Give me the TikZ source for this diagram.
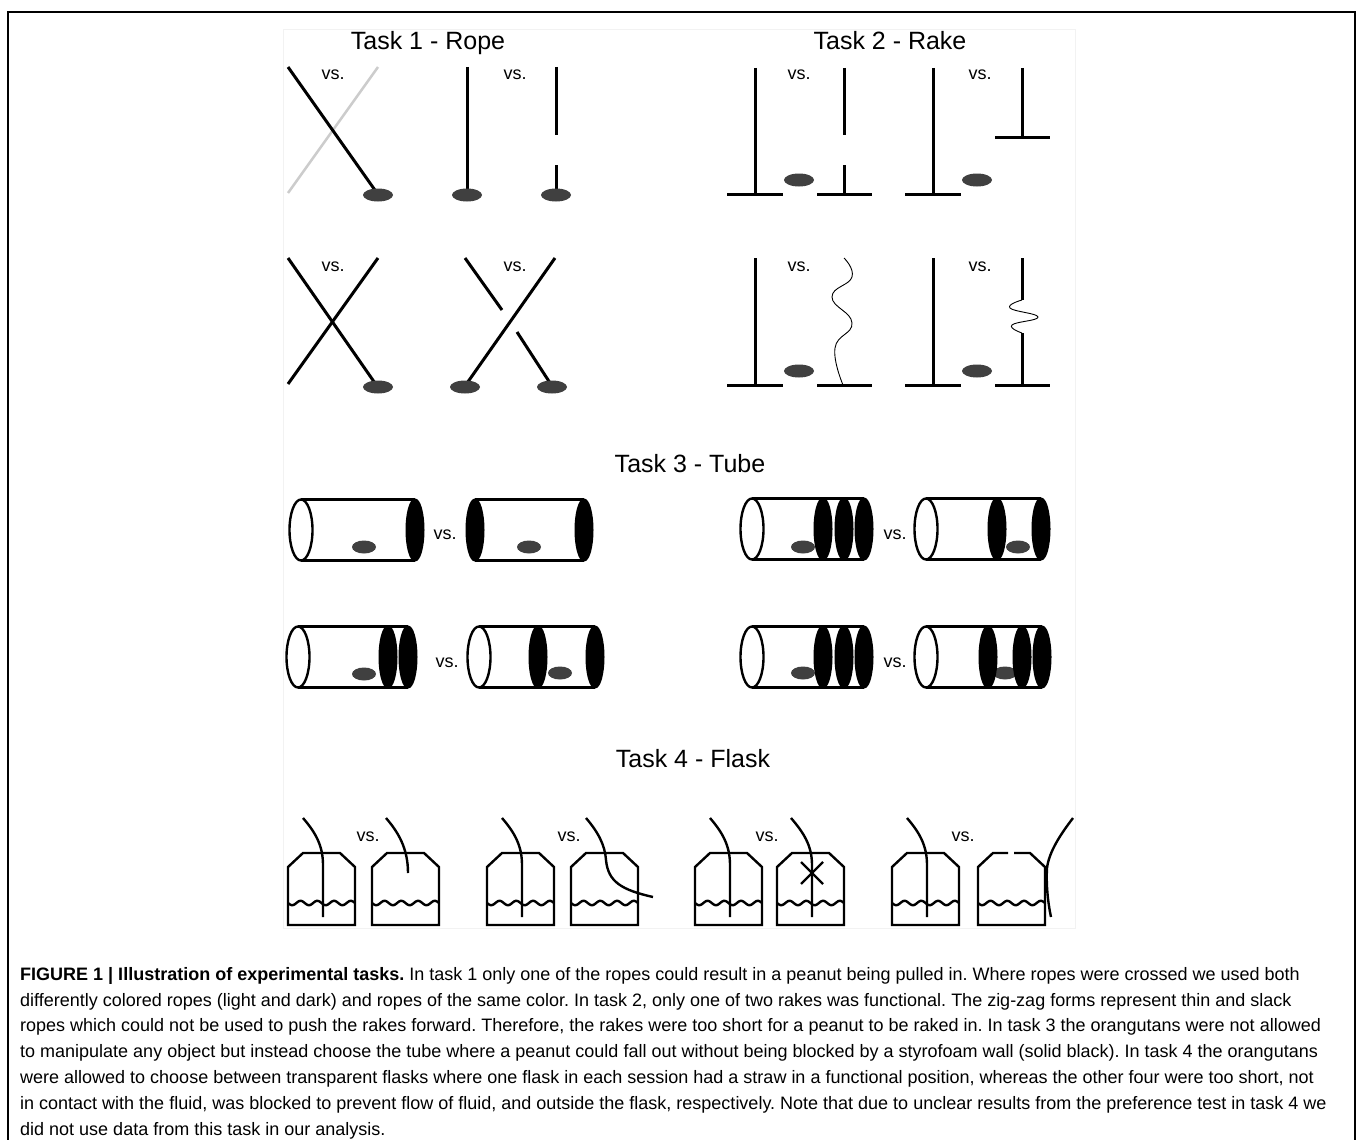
\documentclass[tikz,border=0pt]{standalone}
\usepackage{fontspec}
\setmainfont{Liberation Sans}
\usepackage{tikz}

\newcommand\tubebody[3]{\draw[tubeline] (#1,#3-30.5) -- (#2,#3-30.5) (#1,#3+30.5) -- (#2,#3+30.5);}
\newcommand\flask[1]{%
  \draw[flaskline] (#1,925) -- (#1,867) -- (#1+15,853) -- (#1+52,853) -- (#1+67,867) -- (#1+67,925) -- cycle;
  \draw[flaskline] plot[domain=0:67,samples=60] ({#1+\x},{903+2.2*sin(21.49*\x)});}

\begin{document}
\frenchspacing
\begin{tikzpicture}[x=1pt,y=-1pt,
    rope/.style={line width=3pt},
    lightrope/.style={line width=2.5pt,black!20},
    slack/.style={line width=0.9pt},
    peanut/.style={fill=black!75},
    tubeline/.style={line width=2.4pt},
    openend/.style={draw,fill=white,line width=2.4pt},
    wall/.style={draw,fill=black,line width=2pt},
    flaskline/.style={line width=2.4pt,line join=miter},
    straw/.style={line width=2.4pt},
    tasktitle/.style={font=\fontsize{25}{30}\selectfont,anchor=base},
    vslabel/.style={font=\fontsize{18}{20}\selectfont,inner sep=0pt}]

\useasboundingbox (0,0) rectangle (1358,1140);
\fill[white] (0,0) rectangle (1358,1140);
\draw[line width=1.2pt] (8,1140) -- (8,12) -- (1355,12) -- (1355,1140);
\draw[black!5] (283,29) rectangle (1075,928);

\node[tasktitle] (rope) at (428,50) {Task 1 - Rope};
\node[tasktitle] (rake) at (890,50) {Task 2 - Rake};
\node[tasktitle] (tube) at (690,472) {Task 3 - Tube};
\node[tasktitle] (flask) at (693,767) {Task 4 - Flask};

\foreach \x/\y [count=\i] in {333/75,515/75,333/267,515/267,799/75,980/75,799/267,980/267,
    445/535,895/535,447/663,895/663,368/837,569/837,767/837,963/837}
  \node[vslabel] (vs\i) at (\x,\y) {vs.};

% ropes
\draw[lightrope] (378,67) -- (288,193);
\draw[rope] (288,67) -- (377,193);
\draw[rope] (467,67) -- (467,195);
\draw[rope] (556,67) -- (556,135) (556,165) -- (556,195);
\draw[rope] (288,258) -- (377,386);
\draw[rope] (378,258) -- (288,384);
\draw[rope] (555,258) -- (465,386);
\draw[rope] (465,258) -- (502,310) (517,332) -- (552,386);
\foreach \x/\y in {378/195,467/195,556/195,378/387,465/387,552/387}
  \fill[peanut] (\x,\y) ellipse [x radius=15pt,y radius=6.5pt];

% rakes
\foreach \x in {755,933} {
  \draw[rope] (\x,68) -- (\x,194) (\x-28,194) -- (\x+28,194);
  \draw[rope] (\x,258) -- (\x,385) (\x-28,385) -- (\x+28,385);
}
\draw[rope] (844,68) -- (844,135) (844,165) -- (844,194) (817,194) -- (872,194);
\draw[rope] (1022,68) -- (1022,137) (995,137) -- (1050,137);
\draw[rope] (817,385) -- (872,385);
\draw[slack] plot[smooth,tension=0.8] coordinates {(844,258) (852,277) (832,297) (852,323) (835,348) (843,385)};
\draw[rope] (1022,258) -- (1022,300) (1022,333) -- (1022,385) (995,385) -- (1050,385);
\draw[slack] plot[smooth,tension=0.8] coordinates {(1022,300) (1010,308) (1038,317) (1012,325) (1022,333)};
\foreach \x/\y in {799/180,977/180,799/371,977/371}
  \fill[peanut] (\x,\y) ellipse [x radius=15pt,y radius=6.5pt];

% tubes
\foreach \x/\y in {364/547,529/547,364/674,560/673,803/547,1018/547,803/673,1005/673}
  \fill[peanut] (\x,\y) ellipse [x radius=12pt,y radius=6.5pt];
\tubebody{301}{415}{530}
\tubebody{475}{584}{530}
\tubebody{298}{408}{657}
\tubebody{479}{595}{657}
\tubebody{752}{864}{529}
\tubebody{926}{1041}{529}
\tubebody{752}{864}{657}
\tubebody{926}{1042}{657}
\foreach \x/\y in {301/530,298/657,479/657,752/529,926/529,752/657,926/657}
  \draw[openend] (\x,\y) ellipse [x radius=11.5pt,y radius=30.5pt];
\foreach \x/\y in {415/530,475/530,584/530,388/657,408/657,538/657,595/657,
    823/529,844/529,864/529,997/529,1041/529,823/657,844/657,864/657,988/657,1022/657,1042/657}
  \draw[wall] (\x,\y) ellipse [x radius=8.5pt,y radius=30.5pt];

% flasks
\foreach \l in {288,372,487,571,695,777,892} {\flask{\l}}
\draw[flaskline] (1008,853) -- (993,853) -- (978,867) -- (978,925) -- (1045,925) -- (1045,867) -- (1030,853) -- (1014,853);
\draw[flaskline] plot[domain=0:67,samples=60] ({978+\x},{903+2.2*sin(21.49*\x)});
\foreach \l in {288,487,695,892}
  \draw[straw] (\l+15,818) .. controls (\l+27,832) and (\l+35,845) .. (\l+35,865) -- (\l+35,917);
\draw[straw] (386,818) .. controls (398,832) and (408,848) .. (408,873);
\draw[straw] (586,818) .. controls (598,832) and (605,845) .. (606,860) .. controls (608,882) and (622,890) .. (653,897);
\draw[straw] (791,818) .. controls (803,832) and (812,845) .. (812,865) -- (812,917);
\draw[straw] (801,862) -- (823,884) (801,884) -- (823,862);
\draw[straw] (1073,818) .. controls (1060,835) and (1049,852) .. (1047,868) .. controls (1046,885) and (1048,903) .. (1051,917);

\node[anchor=north west,inner sep=0pt,align=left,font=\fontsize{18}{25.8}\selectfont] (caption) at (20,967)
  {\textbf{FIGURE 1 | Illustration of experimental tasks.} In task 1 only one of the ropes could result in a peanut being pulled in. Where ropes were crossed we used both\\
   differently colored ropes (light and dark) and ropes of the same color. In task 2, only one of two rakes was functional. The zig-zag forms represent thin and slack\\
   ropes which could not be used to push the rakes forward. Therefore, the rakes were too short for a peanut to be raked in. In task 3 the orangutans were not allowed\\
   to manipulate any object but instead choose the tube where a peanut could fall out without being blocked by a styrofoam wall (solid black). In task 4 the orangutans\\
   were allowed to choose between transparent flasks where one flask in each session had a straw in a functional position, whereas the other four were too short, not\\
   in contact with the fluid, was blocked to prevent flow of fluid, and outside the flask, respectively. Note that due to unclear results from the preference test in task 4 we\\
   did not use data from this task in our analysis.};
\end{tikzpicture}
\end{document}
